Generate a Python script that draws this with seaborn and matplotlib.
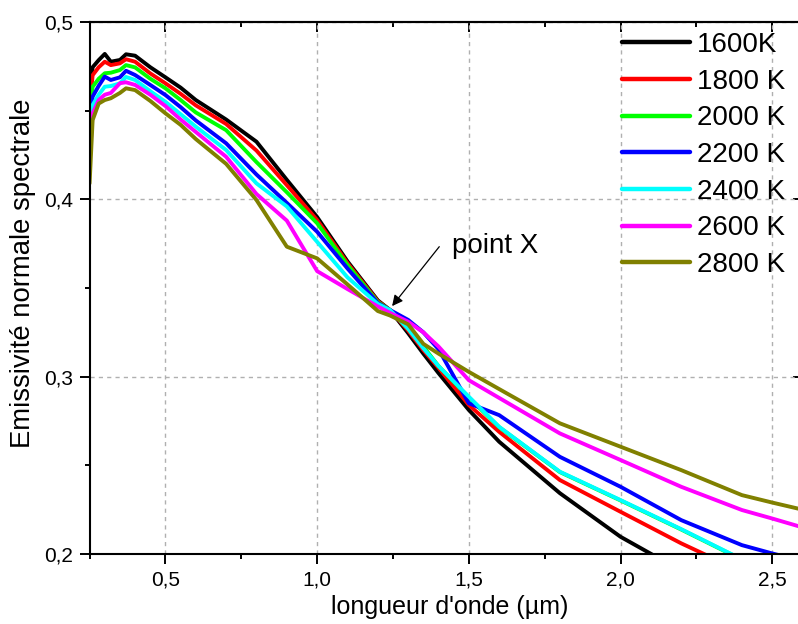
import numpy as np
import pandas as pd
import matplotlib
matplotlib.use("Agg")
import matplotlib.pyplot as plt
from matplotlib.ticker import MultipleLocator, FuncFormatter
import seaborn as sns

# ---------------- data ----------------
wavelength = [0.25, 0.26, 0.28, 0.30, 0.32, 0.35, 0.37, 0.40, 0.45, 0.50,
              0.55, 0.60, 0.70, 0.80, 0.90, 1.00, 1.10, 1.20, 1.24, 1.30,
              1.35, 1.40, 1.50, 1.60, 1.80, 2.00, 2.20, 2.40, 2.50, 2.60]

eps_1600 = [0.458, 0.4745, 0.4785, 0.482, 0.4776, 0.4786, 0.4818, 0.481, 0.4745, 0.4688,
            0.4630, 0.4560, 0.4450, 0.4325, 0.4110, 0.3900, 0.3650, 0.3430, 0.3376, 0.3245,
            0.3130, 0.3020, 0.2812, 0.2633, 0.2343, 0.2097, 0.1905, 0.1750, 0.1680, 0.1610]
eps_1800 = [0.452, 0.4700, 0.4745, 0.4776, 0.4757, 0.4767, 0.4790, 0.4776, 0.4710, 0.4654,
            0.4595, 0.4530, 0.4425, 0.4275, 0.4080, 0.3883, 0.3640, 0.3425, 0.3376, 0.3260,
            0.3150, 0.3050, 0.2840, 0.2689, 0.2417, 0.2238, 0.2060, 0.1900, 0.1830, 0.1760]
eps_2000 = [0.446, 0.4635, 0.4680, 0.4711, 0.4714, 0.4729, 0.4757, 0.4744, 0.4680, 0.4626,
            0.4560, 0.4490, 0.4390, 0.4210, 0.4040, 0.3865, 0.3630, 0.3420, 0.3376, 0.3270,
            0.3170, 0.3060, 0.2882, 0.2715, 0.2462, 0.2302, 0.2138, 0.1968, 0.1900, 0.1830]
eps_2200 = [0.438, 0.4579, 0.4640, 0.4692, 0.4673, 0.4688, 0.4725, 0.4701, 0.4645, 0.4588,
            0.4520, 0.4445, 0.4316, 0.4140, 0.3980, 0.3817, 0.3610, 0.3415, 0.3376, 0.3320,
            0.3250, 0.3155, 0.2850, 0.2783, 0.2548, 0.2379, 0.2191, 0.2050, 0.2003, 0.1960]
eps_2400 = [0.430, 0.4532, 0.4590, 0.4635, 0.4639, 0.4654, 0.4690, 0.4673, 0.4610, 0.4550,
            0.4480, 0.4410, 0.4278, 0.4090, 0.3960, 0.3760, 0.3560, 0.3410, 0.3376, 0.3270,
            0.3160, 0.3060, 0.2887, 0.2717, 0.2464, 0.2304, 0.2140, 0.1970, 0.1900, 0.1830]
eps_2600 = [0.422, 0.4485, 0.4560, 0.4590, 0.4600, 0.4655, 0.4660, 0.4645, 0.4590, 0.4526,
            0.4450, 0.4380, 0.4240, 0.4030, 0.3880, 0.3595, 0.3494, 0.3396, 0.3360, 0.3310,
            0.3250, 0.3170, 0.2980, 0.2880, 0.2680, 0.2530, 0.2379, 0.2248, 0.2200, 0.2150]
eps_2800 = [0.409, 0.4447, 0.4540, 0.4560, 0.4570, 0.4600, 0.4626, 0.4616, 0.4555, 0.4485,
            0.4420, 0.4340, 0.4200, 0.3996, 0.3733, 0.3667, 0.3520, 0.3370, 0.3345, 0.3295,
            0.3185, 0.3130, 0.3027, 0.2930, 0.2737, 0.2605, 0.2473, 0.2332, 0.2290, 0.2250]

series_labels = ["1600K", "1800 K", "2000 K", "2200 K", "2400 K", "2600 K", "2800 K"]
series_values = [eps_1600, eps_1800, eps_2000, eps_2200, eps_2400, eps_2600, eps_2800]
series_colors = ["#000000", "#ff0000", "#00ff00", "#0000ff", "#00ffff", "#ff00ff", "#808000"]

x_ticks = [0.5, 1.0, 1.5, 2.0, 2.5]
y_ticks = [0.2, 0.3, 0.4, 0.5]

# long table for seaborn
frames = []
for lab, vals in zip(series_labels, series_values):
    frames.append(pd.DataFrame({"wl": wavelength, "eps": vals, "T": lab}))
df = pd.concat(frames, ignore_index=True)

# ---------------- style ----------------
sns.set_theme(style="white")
plt.rcParams["font.family"] = ["Liberation Sans", "DejaVu Sans"]
plt.rcParams["axes.linewidth"] = 1.5
plt.rcParams["text.color"] = "black"
plt.rcParams["axes.labelcolor"] = "black"
plt.rcParams["xtick.color"] = "black"
plt.rcParams["ytick.color"] = "black"

fig = plt.figure(figsize=(7.98, 6.24), dpi=100)
ax_w = (802.6 - 89.6) / 798
ax = fig.add_axes([89.6 / 798, (624 - 554) / 624, ax_w, (554 - 22) / 624])

sns.lineplot(data=df, x="wl", y="eps", hue="T", hue_order=series_labels,
             palette=dict(zip(series_labels, series_colors)),
             estimator=None, sort=False, linewidth=2.8, ax=ax)

ax.set_xlim(0.25, 2.6)
ax.set_ylim(0.2, 0.5)

fmt = FuncFormatter(lambda v, p: f"{v:.1f}".replace(".", ","))
ax.xaxis.set_major_locator(MultipleLocator(0.5))
ax.xaxis.set_minor_locator(MultipleLocator(0.25))
ax.yaxis.set_major_locator(MultipleLocator(0.1))
ax.yaxis.set_minor_locator(MultipleLocator(0.05))
ax.set_xticks(x_ticks)
ax.set_yticks(y_ticks)
ax.xaxis.set_major_formatter(fmt)
ax.yaxis.set_major_formatter(fmt)

ax.tick_params(which="major", direction="out", length=7.5, width=1.4,
               labelsize=15, colors="black", pad=4.5)
ax.tick_params(which="minor", direction="out", length=3.8, width=1.4, colors="black")
ax.tick_params(axis="x", which="both", bottom=True, top=False)
ax.tick_params(axis="y", which="both", left=True, right=False)

for s in ax.spines.values():
    s.set_color("black")
    s.set_linewidth(1.5)

# inward ticks on top and right
top = ax.secondary_xaxis("top")
top.xaxis.set_major_locator(MultipleLocator(0.5))
top.xaxis.set_minor_locator(MultipleLocator(0.25))
top.tick_params(which="major", direction="in", length=7, width=1.4, labeltop=False, colors="black")
top.tick_params(which="minor", direction="in", length=3.5, width=1.4, colors="black")
top.spines["top"].set_linewidth(1.5)
top.spines["top"].set_color("black")
right = ax.secondary_yaxis("right")
right.yaxis.set_major_locator(MultipleLocator(0.1))
right.yaxis.set_minor_locator(MultipleLocator(0.05))
right.tick_params(which="major", direction="in", length=7, width=1.4, labelright=False, colors="black")
right.tick_params(which="minor", direction="in", length=3.5, width=1.4, colors="black")

ax.grid(True, which="major", color="#b0b0b0", linestyle=(0, (3, 3)), linewidth=1.0)

ax.set_xlabel("longueur d'onde (µm)", fontsize=18, color="black")
ax.set_ylabel("Emissivité normale spectrale", fontsize=19.8, color="black")
ax.xaxis.set_label_coords(0.5055, -0.078)
ax.yaxis.set_label_coords(-0.075, 0.527)

handles, labels = ax.get_legend_handles_labels()
leg = ax.legend(handles, labels, loc="upper left",
                bbox_to_anchor=(621.7 / 798, 1 - 32 / 624), bbox_transform=fig.transFigure,
                frameon=False, fontsize=20, handlelength=2.45, handletextpad=0.25,
                labelspacing=0.385, borderpad=0, borderaxespad=0, labelcolor="black")
for h in leg.get_lines():
    h.set_linewidth(3.2)

ax.annotate("", xy=(1.247, 0.3398), xytext=(1.4025, 0.3733),
            arrowprops=dict(arrowstyle="-|>", color="black", lw=0.9,
                            mutation_scale=16, shrinkA=0, shrinkB=0))
ax.text(1.4454, 0.3697, "point X", fontsize=20, ha="left", va="baseline", color="black")

fig.savefig("out.png", dpi=100)
